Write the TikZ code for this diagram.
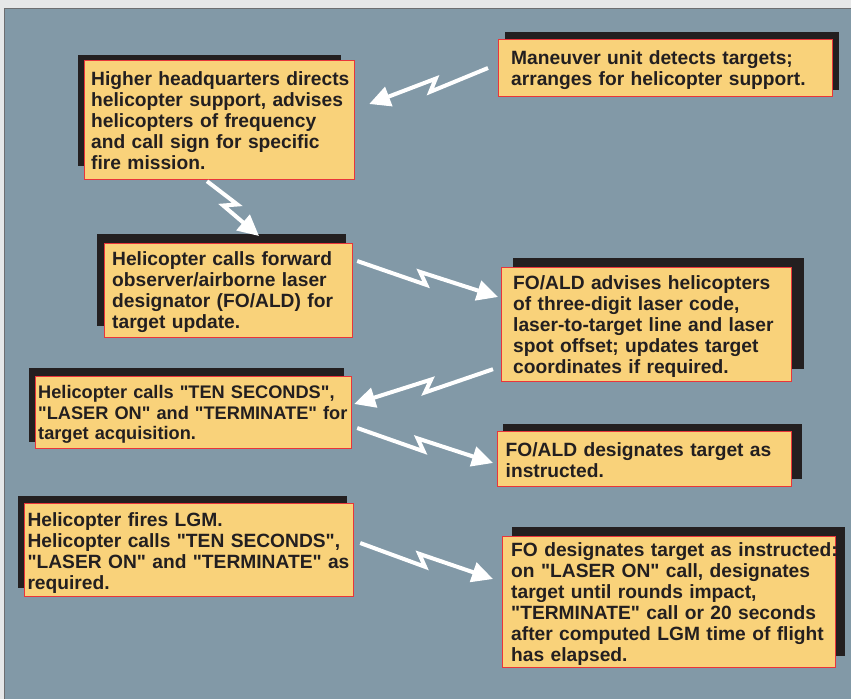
\documentclass[tikz,border=0pt]{standalone}
\usepackage{fontspec}
\setmainfont{Liberation Sans}[Ligatures=TeXOff]
\usetikzlibrary{calc,arrows.meta}
\definecolor{bgpanel}{HTML}{8299A7}
\definecolor{outerc}{HTML}{E6E7E8}
\definecolor{boxfill}{HTML}{F9D27A}
\definecolor{boxline}{HTML}{E9353A}
\definecolor{shadowc}{HTML}{231F20}
\definecolor{ink}{HTML}{231F20}
\definecolor{frameline}{HTML}{6D6E71}
\begin{document}
\begin{tikzpicture}[x=1pt,y=-1pt,
  box/.style={draw=boxline, fill=boxfill, line width=1.2pt, rectangle, inner sep=0pt, anchor=north west},
  txt/.style={inner sep=0pt, anchor=base west, text width=420pt, align=left, text=ink,
              font=\fontsize{19.2}{21}\selectfont\bfseries},
  shd/.style={fill=shadowc},
  boltbase/.style={draw=white, line width=4pt, -{Triangle[length=21pt,width=20pt]}},
  boltR/.style={boltbase, to path={-- ($(\tikztostart)!0.5!(\tikztotarget)!6pt!-90:(\tikztotarget)$)
        -- ($(\tikztostart)!0.5!(\tikztotarget)!-9pt!(\tikztotarget)!5pt!90:(\tikztotarget)$)
        -- (\tikztotarget)}},
  boltL/.style={boltbase, to path={-- ($(\tikztostart)!0.5!(\tikztotarget)!6pt!90:(\tikztotarget)$)
        -- ($(\tikztostart)!0.5!(\tikztotarget)!-9pt!(\tikztotarget)!5pt!-90:(\tikztotarget)$)
        -- (\tikztotarget)}}
]
\useasboundingbox (0,0) rectangle (851,699);
\fill[outerc] (0,0) rectangle (851,699);
\fill[bgpanel] (4.5,8.5) rectangle (851,699);
\draw[frameline, line width=1pt] (4.5,699) -- (4.5,8.5) -- (851,8.5);

% shadows
\fill[shd] (78,55) rectangle (341,166);
\fill[shd] (505,32) rectangle (839,90);
\fill[shd] (97,234) rectangle (346,326);
\fill[shd] (513,258) rectangle (804,369);
\fill[shd] (29,368) rectangle (344,442);
\fill[shd] (503,424) rectangle (802,479);
\fill[shd] (18,496) rectangle (347,588);
\fill[shd] (512,527) rectangle (845,656);

% boxes
\node[box, minimum width=270pt, minimum height=119pt] (hq)  at (84,60) {};
\node[box, minimum width=334pt, minimum height=57pt]  (man) at (498,39) {};
\node[box, minimum width=248pt, minimum height=94pt]  (hc)  at (104,243) {};
\node[box, minimum width=290pt, minimum height=114pt] (foa) at (501,267) {};
\node[box, minimum width=316pt, minimum height=72pt]  (ten) at (35,376) {};
\node[box, minimum width=294pt, minimum height=55pt]  (fod) at (497,431) {};
\node[box, minimum width=329pt, minimum height=93pt]  (lgm) at (24,503) {};
\node[box, minimum width=333pt, minimum height=131pt] (foi) at (502,536) {};

% texts
\node[txt] (hqt) at ([shift={(7,25)}]hq.north west)
  {Higher headquarters directs\\helicopter support, advises\\helicopters of frequency\\and call sign for specific\\fire mission.};
\node[txt] (mant) at ([shift={(13,25.3)}]man.north west)
  {Maneuver unit detects targets;\\arranges for helicopter support.};
\node[txt] (hct) at ([shift={(8,22.7)}]hc.north west)
  {Helicopter calls forward\\observer/airborne laser\\designator (FO/ALD) for\\target update.};
\node[txt] (foat) at ([shift={(12,22.3)}]foa.north west)
  {FO/ALD advises helicopters\\of three-digit laser code,\\laser-to-target line and laser\\spot offset; updates target\\coordinates if required.};
\node[txt, font=\fontsize{18.2}{20.8}\selectfont\bfseries] (tent) at ([shift={(3,22.3)}]ten.north west)
  {Helicopter calls "TEN SECONDS",\\"LASER ON" and "TERMINATE" for\\target acquisition.};
\node[txt] (fodt) at ([shift={(8.5,25)}]fod.north west)
  {FO/ALD designates target as\\instructed.};
\node[txt] (lgmt) at ([shift={(3.3,23)}]lgm.north west)
  {Helicopter fires LGM.\\Helicopter calls "TEN SECONDS",\\"LASER ON" and "TERMINATE" as\\required.};
\node[txt] (foit) at ([shift={(9,20.7)}]foi.north west)
  {FO designates target as instructed:\\on "LASER ON" call, designates\\target until rounds impact,\\"TERMINATE" call or 20 seconds\\after computed LGM time of flight\\has elapsed.};

% connector end points
\coordinate (aS) at ([shift={(-10,29)}]man.north west);
\coordinate (aE) at ([shift={(14,44)}]hq.north east);
\coordinate (bS) at ([shift={(123,1)}]hq.south west);
\coordinate (bE) at ([shift={(155,-7)}]hc.north west);
\coordinate (cS) at ([shift={(4,18)}]hc.north east);
\coordinate (cE) at ([shift={(-3,30)}]foa.north west);
\coordinate (dS) at ([shift={(-8,-13)}]foa.south west);
\coordinate (dE) at ([shift={(2,28)}]ten.north east);
\coordinate (eS) at ([shift={(5,52)}]ten.north east);
\coordinate (eE) at ([shift={(-4,32)}]fod.north west);
\coordinate (fS) at ([shift={(6,40)}]lgm.north east);
\coordinate (fE) at ([shift={(-9,43)}]foi.north west);

% lightning connectors
\draw[boltL] (aS) to (aE);
\draw[boltL] (bS) to (bE);
\draw[boltR] (cS) to (cE);
\draw[boltL] (dS) to (dE);
\draw[boltR] (eS) to (eE);
\draw[boltR] (fS) to (fE);
\end{tikzpicture}
\end{document}
